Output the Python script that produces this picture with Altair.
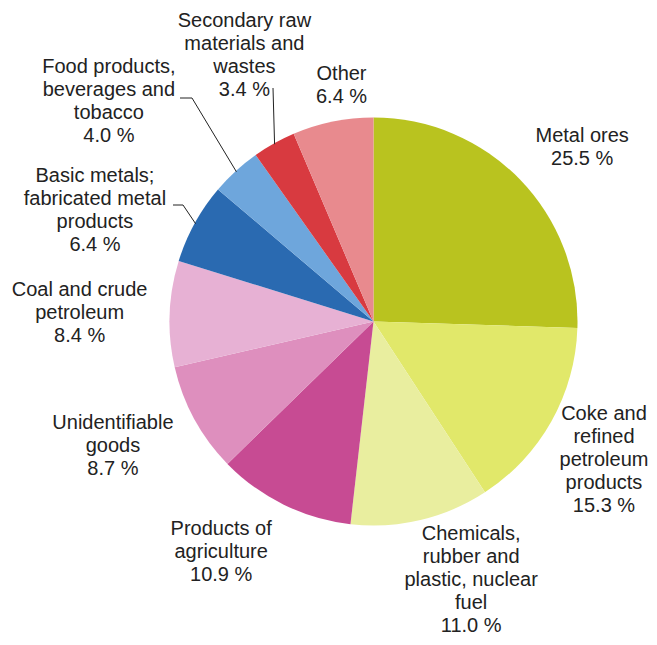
import math
import altair as alt
import pandas as pd

# ---------------- data ----------------
categories = [
    "Metal ores",
    "Coke and refined petroleum products",
    "Chemicals, rubber and plastic, nuclear fuel",
    "Products of agriculture",
    "Unidentifiable goods",
    "Coal and crude petroleum",
    "Basic metals; fabricated metal products",
    "Food products, beverages and tobacco",
    "Secondary raw materials and wastes",
    "Other",
]
label_lines = [
    ["Metal ores"],
    ["Coke and", "refined", "petroleum", "products"],
    ["Chemicals,", "rubber and", "plastic, nuclear", "fuel"],
    ["Products of", "agriculture"],
    ["Unidentifiable", "goods"],
    ["Coal and crude", "petroleum"],
    ["Basic metals;", "fabricated metal", "products"],
    ["Food products,", "beverages and", "tobacco"],
    ["Secondary raw", "materials and", "wastes"],
    ["Other"],
]
values = [25.5, 15.3, 11.0, 10.9, 8.7, 8.4, 6.4, 4.0, 3.4, 6.4]
colors = ["#B9C31F", "#E1E86A", "#E9EE9F", "#C74B93", "#DE8FBE",
          "#E7B1D4", "#2A6AB1", "#6EA6DC", "#D83A40", "#E88A8E"]

# ---------------- layout ----------------
W, H = 641, 629
CX, CY = 365.5, 313.5      # pie centre inside the view
R = 204                    # pie radius
LH = 23                    # label line height
label_r = [272, 269, 276, 276, 289, 294, 300, 344, 296, 238]
label_dtheta = [4.2, 1.7, -7.4, 7.4, 3.0, -0.5, -7.0, -7.8, 3.3, 3.8]
# leader lines: label-side points (view px) for the slices that have one
leader_start = {
    6: [(165, 197), (175, 197)],
    7: [(172, 90), (184, 90)],
    8: [(265, 80)],
}

total = sum(values)
cum = 0.0
mid_deg = []
for v in values:
    mid_deg.append((cum + v / 2) / total * 360)
    cum += v

lab_x, lab_y = [], []
for m, d, r, l in zip(mid_deg, label_dtheta, label_r, label_lines):
    a = math.radians(m + d)
    n = len(l) + 1
    lab_x.append(CX + r * math.sin(a))
    lab_y.append(CY - r * math.cos(a) - (n - 1) * LH / 2)

df = pd.DataFrame({
    "category": categories,
    "value": values,
    "order": list(range(len(values))),
    "label": ["\n".join(l + [f"{v:.1f} %"]) for l, v in zip(label_lines, values)],
    "lx": lab_x,
    "ly": lab_y,
})

rows = []
for i, pts in leader_start.items():
    a = math.radians(mid_deg[i])
    edge = (CX + (R - 1) * math.sin(a), CY - (R - 1) * math.cos(a))
    for k, (px, py) in enumerate(pts + [edge]):
        rows.append({"category": categories[i], "k": k, "x": px, "y": py})
lines_df = pd.DataFrame(rows)

arcs = alt.Chart(df).mark_arc(outerRadius=R, stroke=None).encode(
    theta=alt.Theta("value:Q", stack=True),
    order=alt.Order("order:Q"),
    color=alt.Color("category:N", scale=alt.Scale(domain=categories, range=colors), legend=None),
    x=alt.value(CX),
    y=alt.value(CY),
)

texts = alt.Chart(df).mark_text(
    font="Liberation Sans", fontSize=20, lineHeight=LH, lineBreak="\n",
    align="center", baseline="middle", color="#222222",
).encode(
    x=alt.X("lx:Q", scale=None, axis=None),
    y=alt.Y("ly:Q", scale=None, axis=None),
    text="label:N",
)

leaders = alt.Chart(lines_df).mark_line(color="#222222", strokeWidth=1).encode(
    x=alt.X("x:Q", scale=None, axis=None),
    y=alt.Y("y:Q", scale=None, axis=None),
    detail="category:N",
    order="k:Q",
)

chart = alt.layer(arcs, leaders, texts).properties(
    width=W, height=H, padding=0,
    autosize=alt.AutoSizeParams(type="none"),
).configure_view(stroke=None)

chart.save("out.html", embed_options={"renderer": "svg", "actions": False})
